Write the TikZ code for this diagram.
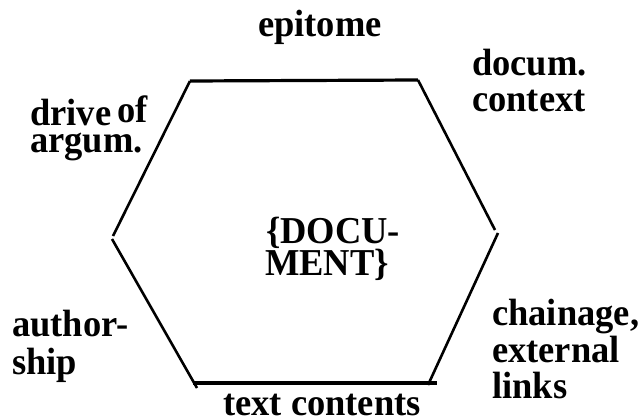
\documentclass[tikz,border=0pt]{standalone}
\usepackage{fontspec}
\setmainfont{Liberation Serif}[FakeStretch=0.96]
\begin{document}
\begin{tikzpicture}[x=1pt, y=-1pt,
  lbl/.style={font=\bfseries\fontsize{38}{38}\selectfont, inner sep=0pt, anchor=base west},
  side/.style={line width=2.6pt},
  flat/.style={line width=3.2pt}]
\useasboundingbox (0,0) rectangle (638,420);

% corners of the hexagon (each side drawn as its own stroke)
\coordinate (tl) at (190,81);
\coordinate (tr) at (418,80);
\coordinate (rt) at (495,230);
\coordinate (rb) at (498,233);
\coordinate (br1) at (428,385);
\coordinate (br2) at (437,383);
\coordinate (bl1) at (193,383);
\coordinate (bl2) at (197,388);
\coordinate (lb) at (112,239);
\coordinate (lt) at (113,236);

\draw[flat] (tl) -- (tr);
\draw[side] (tr) -- (rt);
\draw[side] (rb) -- (br1);
\draw[flat] (bl1) -- (br2);
\draw[side] (bl2) -- (lb);
\draw[side] (lt) -- (tl);

% labels around the sides
\node[lbl] (epi) at (258,37) {epitome};
\node[lbl] (ctx1) at (472,76) {docum.};
\node[lbl] (ctx2) at (472,112) {context};
\node[lbl] (drv1) at (30,125) {drive};
\node[lbl] (drv2) at (117,122) {of};
\node[lbl] (drv3) at (30,153) {argum.};
\node[lbl] (doc1) at (266,243) {\{DOCU-};
\node[lbl] (doc2) at (265,275) {MENT\}};
\node[lbl] (aut1) at (12,336) {author-};
\node[lbl] (aut2) at (12,374) {ship};
\node[lbl] (chn1) at (492,325) {chainage,};
\node[lbl] (chn2) at (492,362) {external};
\node[lbl] (chn3) at (492,398) {links};
\node[lbl] (txt) at (223,415) {text contents};
\end{tikzpicture}
\end{document}
